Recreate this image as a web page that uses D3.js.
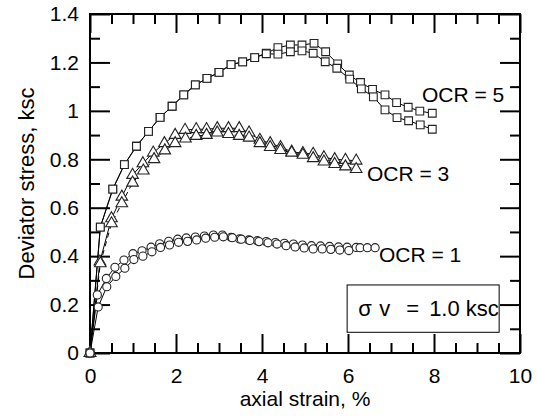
<!DOCTYPE html>
<html><head><meta charset="utf-8">
<script src="https://cdn.jsdelivr.net/npm/d3@7"></script>
<style>
body{margin:0;background:#fff}
svg{display:block}
text{font-family:Arial,"Liberation Sans",sans-serif;fill:#000}
</style>
</head><body>
<script>
// ---- data (axial strain %, deviator stress ksc) ----
const ocr5aX = [0,0.24,0.53,0.80,1.08,1.36,1.63,1.91,2.18,2.45,2.72,3.00,3.28,3.55,3.83,4.10,4.37,4.66,4.93,5.21,5.48,5.76,6.03,6.29,6.57,6.86,7.13,7.40,7.67,7.96];
const ocr5aY = [0,0.52,0.677,0.778,0.854,0.915,0.973,1.019,1.066,1.107,1.134,1.159,1.191,1.202,1.220,1.238,1.261,1.272,1.272,1.279,1.244,1.194,1.148,1.117,1.089,1.066,1.034,1.015,0.999,0.990];
const ocr5bX = [0,0.24,0.53,0.80,1.08,1.36,1.63,1.91,2.18,2.45,2.72,3.00,3.28,3.55,3.83,4.10,4.37,4.66,4.93,5.19,5.47,5.74,6.04,6.31,6.59,6.86,7.14,7.41,7.68,7.96];
const ocr5bY = [0,0.52,0.677,0.778,0.854,0.915,0.973,1.019,1.066,1.107,1.134,1.159,1.191,1.202,1.220,1.236,1.234,1.244,1.248,1.238,1.203,1.176,1.131,1.091,1.058,1.004,0.972,0.959,0.942,0.924];
const ocr3aX = [0,0.23,0.50,0.74,0.99,1.23,1.47,1.73,1.98,2.21,2.47,2.71,2.96,3.22,3.47,3.70,3.95,4.19,4.43,4.69,4.95,5.19,5.44,5.69,5.94,6.19];
const ocr3aY = [0,0.377,0.556,0.645,0.735,0.783,0.827,0.866,0.900,0.921,0.924,0.924,0.928,0.928,0.928,0.910,0.880,0.866,0.850,0.831,0.825,0.822,0.808,0.800,0.797,0.794];
const ocr3bX = [0,0.24,0.50,0.74,0.99,1.24,1.49,1.74,1.98,2.22,2.47,2.71,2.96,3.22,3.47,3.70,3.95,4.19,4.43,4.69,4.95,5.19,5.44,5.69,5.94,6.19];
const ocr3bY = [0,0.370,0.535,0.618,0.703,0.753,0.800,0.836,0.866,0.885,0.896,0.900,0.910,0.904,0.896,0.889,0.866,0.850,0.838,0.827,0.818,0.804,0.790,0.780,0.770,0.759];
const ocr1aX = [0,0.17,0.38,0.58,0.79,1.00,1.21,1.42,1.62,1.83,2.04,2.24,2.45,2.66,2.87,3.08,3.28,3.48,3.69,3.89,4.10,4.31,4.52,4.73,4.94,5.15,5.36,5.57,5.78,5.98,6.19,6.28,6.45,6.63];
const ocr1aY = [0,0.240,0.308,0.354,0.384,0.410,0.422,0.437,0.451,0.461,0.470,0.475,0.479,0.483,0.487,0.487,0.478,0.471,0.467,0.464,0.460,0.456,0.453,0.450,0.446,0.443,0.442,0.440,0.438,0.437,0.436,0.435,0.435,0.435];
const ocr1bX = [0,0.19,0.39,0.60,0.81,1.02,1.23,1.44,1.64,1.85,2.06,2.27,2.48,2.69,2.90,3.10,3.31,3.52,3.72,3.93,4.14,4.35,4.56,4.77,4.98,5.19,5.40,5.60,5.81,6.02];
const ocr1bY = [0,0.190,0.274,0.316,0.350,0.386,0.400,0.418,0.436,0.446,0.457,0.461,0.467,0.474,0.478,0.480,0.476,0.470,0.465,0.460,0.455,0.450,0.443,0.438,0.434,0.430,0.430,0.428,0.425,0.423];

const xTicks = [0,2,4,6,8,10];
const xMinor = [0.5,1,1.5,2.5,3,3.5,4.5,5,5.5,6.5,7,7.5,8.5,9,9.5];
const yTicks = [0,0.2,0.4,0.6,0.8,1,1.2,1.4];
const yMinor = [0.1,0.3,0.5,0.7,0.9,1.1,1.3];
const xTitle = "axial strain, %";
const yTitle = "Deviator stress, ksc";
const seriesLabels = ["OCR = 5","OCR = 3","OCR = 1"];
const boxWords = ["\u03C3","v","=","1.0 ksc"];

// ---- layout ----
const W = 537, H = 418;
const L = 90, R = 520, T = 14, B = 353;
const FS = 21;

const svg = d3.select("body").append("svg").attr("width", W).attr("height", H);
const x = d3.scaleLinear().domain([0,10]).range([L,R]);
const y = d3.scaleLinear().domain([0,1.4]).range([B,T]);

const zip = (xs, ys) => xs.map((v,i)=>[v, ys[i]]);
const series = [
  {pts: zip(ocr5aX, ocr5aY), sym: d3.symbolSquare, size: 60, dash: null},
  {pts: zip(ocr5bX, ocr5bY), sym: d3.symbolSquare, size: 60, dash: null},
  {pts: zip(ocr3aX, ocr3aY), sym: d3.symbolTriangle, size: 58, dash: null},
  {pts: zip(ocr3bX, ocr3bY), sym: d3.symbolTriangle, size: 58, dash: "5,4"},
  {pts: zip(ocr1aX, ocr1aY), sym: d3.symbolCircle, size: 52, dash: null},
  {pts: zip(ocr1bX, ocr1bY), sym: d3.symbolCircle, size: 52, dash: null}
];

// axes (inward ticks)
function styleAxis(g){ g.select(".domain").remove(); g.selectAll(".tick line").attr("stroke","#000").attr("stroke-width",2); g.selectAll("text").style("font-size",FS+"px").attr("fill","#000"); }
svg.append("g").attr("transform",`translate(0,${B})`)
  .call(d3.axisBottom(x).tickValues(xTicks).tickSize(-19).tickPadding(15).tickFormat(d3.format("d"))).call(styleAxis);
svg.append("g").attr("transform",`translate(0,${B})`)
  .call(d3.axisBottom(x).tickValues(xMinor).tickSize(-10).tickFormat("")).call(styleAxis);
svg.append("g").attr("transform",`translate(0,${T})`)
  .call(d3.axisTop(x).tickValues(xTicks).tickSize(-19).tickFormat("")).call(styleAxis);
svg.append("g").attr("transform",`translate(0,${T})`)
  .call(d3.axisTop(x).tickValues(xMinor).tickSize(-10).tickFormat("")).call(styleAxis);
svg.append("g").attr("transform",`translate(${L},0)`)
  .call(d3.axisLeft(y).tickValues(yTicks).tickSize(-20).tickPadding(11).tickFormat(d3.format("~g"))).call(styleAxis);
svg.append("g").attr("transform",`translate(${L},0)`)
  .call(d3.axisLeft(y).tickValues(yMinor).tickSize(-10).tickFormat("")).call(styleAxis);
svg.append("g").attr("transform",`translate(${R},0)`)
  .call(d3.axisRight(y).tickValues(yTicks).tickSize(-20).tickFormat("")).call(styleAxis);
svg.append("g").attr("transform",`translate(${R},0)`)
  .call(d3.axisRight(y).tickValues(yMinor).tickSize(-10).tickFormat("")).call(styleAxis);

svg.append("rect").attr("x",L).attr("y",T).attr("width",R-L).attr("height",B-T)
  .attr("fill","none").attr("stroke","#000").attr("stroke-width",2);

// lines
const line = d3.line().x(d=>x(d[0])).y(d=>y(d[1]));
series.forEach(s=>{
  svg.append("path").attr("d", line(s.pts)).attr("fill","none").attr("stroke","#000")
    .attr("stroke-width",1).attr("stroke-dasharray", s.dash);
});
// markers
series.forEach(s=>{
  svg.append("g").selectAll("path").data(s.pts).join("path")
    .attr("transform", d=>`translate(${x(d[0])},${y(d[1])})`)
    .attr("d", d3.symbol().type(s.sym).size(s.size))
    .attr("fill","#fff").attr("stroke","#222").attr("stroke-width",1.1);
});

// series labels
const labPos = [[7.72,1.037],[6.44,0.712],[6.72,0.377]];
seriesLabels.forEach((t,i)=>{
  svg.append("text").attr("x",x(labPos[i][0])).attr("y",y(labPos[i][1])).style("font-size",FS+"px").text(t);
});

// annotation box
const bx0 = x(5.98), bx1 = x(9.515), by0 = y(0.281), by1 = y(0.0855);
svg.append("clipPath").attr("id","boxclip").append("rect")
  .attr("x",bx0).attr("y",by0).attr("width",bx1-bx0).attr("height",by1-by0);
const bt = svg.append("text").attr("y",by0+31).attr("clip-path","url(#boxclip)").style("font-size","22px");
const wordOffsets = [11, 32, 59, 82];
boxWords.forEach((w,i)=> bt.append("tspan").attr("x", bx0 + wordOffsets[i]).text(w));
svg.append("rect").attr("x",bx0).attr("y",by0).attr("width",bx1-bx0).attr("height",by1-by0)
  .attr("fill","none").attr("stroke","#000").attr("stroke-width",1);

// axis titles
svg.append("text").attr("x",(L+R)/2).attr("y",406).attr("text-anchor","middle").style("font-size",FS+"px").text(xTitle);
svg.append("text").attr("transform",`translate(34,${(T+B)/2}) rotate(-90)`).attr("text-anchor","middle").style("font-size",(FS+1)+"px").text(yTitle);
</script>
</body></html>
